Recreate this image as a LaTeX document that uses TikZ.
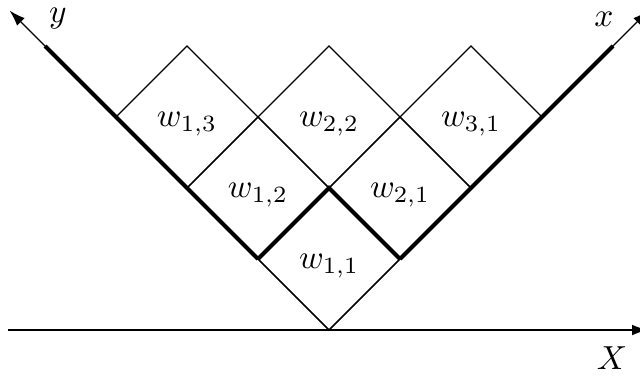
\documentclass[tikz,border=0pt]{standalone}
\usetikzlibrary{arrows.meta}
\begin{document}
\begin{tikzpicture}[x=0.3pt,y=-0.3pt,
  thin line/.style={line width=0.4pt},
  thick line/.style={line width=1.25pt},
  axis/.style={line width=0.4pt,-{Latex[length=4.8pt,width=3.2pt]}},
  lbl/.style={inner sep=0pt}]
\useasboundingbox (0,0) rectangle (640,376);
\clip (0,0) rectangle (640,376);
\coordinate (hl) at (8,330);
\coordinate (hr) at (648,330);
\draw[axis] (hl) -- (hr);
\node[lbl] (Xl) at (612,358) {$X$};
\begin{scope}[shift={(329,330)}, x={(21.3pt,21.3pt)}, y={(-21.3pt,21.3pt)}]
  \coordinate (O) at (0,0);
  \coordinate (ytip) at (0,4.5);
  \coordinate (xtip) at (4.5,0);
  % cells
  \foreach \a/\b in {1/1,1/2,1/3,2/1,2/2,3/1}{
    \draw[thin line] (\a-1,\b-1) -- (\a,\b-1) -- (\a,\b) -- (\a-1,\b) -- cycle;
  }
  \draw[axis] (O) -- (ytip);
  \draw[axis] (O) -- (xtip);
  \coordinate (y1) at (0,1);
  \coordinate (y4) at (0,4);
  \coordinate (x1) at (1,0);
  \coordinate (x4) at (4,0);
  \coordinate (c11) at (1,1);
  \draw[thick line] (y1) -- (y4);
  \draw[thick line] (x1) -- (x4);
  \draw[thick line] (y1) -- (c11) -- (x1);
  \begin{scope}[every node/.append style={yshift=-2pt}]
  \node[lbl] (w11) at (0.5,0.5) {$w_{1,1}$};
  \node[lbl] (w12) at (0.5,1.5) {$w_{1,2}$};
  \node[lbl] (w13) at (0.5,2.5) {$w_{1,3}$};
  \node[lbl] (w21) at (1.5,0.5) {$w_{2,1}$};
  \node[lbl] (w22) at (1.5,1.5) {$w_{2,2}$};
  \node[lbl] (w31) at (2.5,0.5) {$w_{3,1}$};
  \end{scope}
\end{scope}
\node[lbl] (yl) at (58,19) {$y$};
\node[lbl] (xl) at (604,19) {$x$};
\end{tikzpicture}
\end{document}
